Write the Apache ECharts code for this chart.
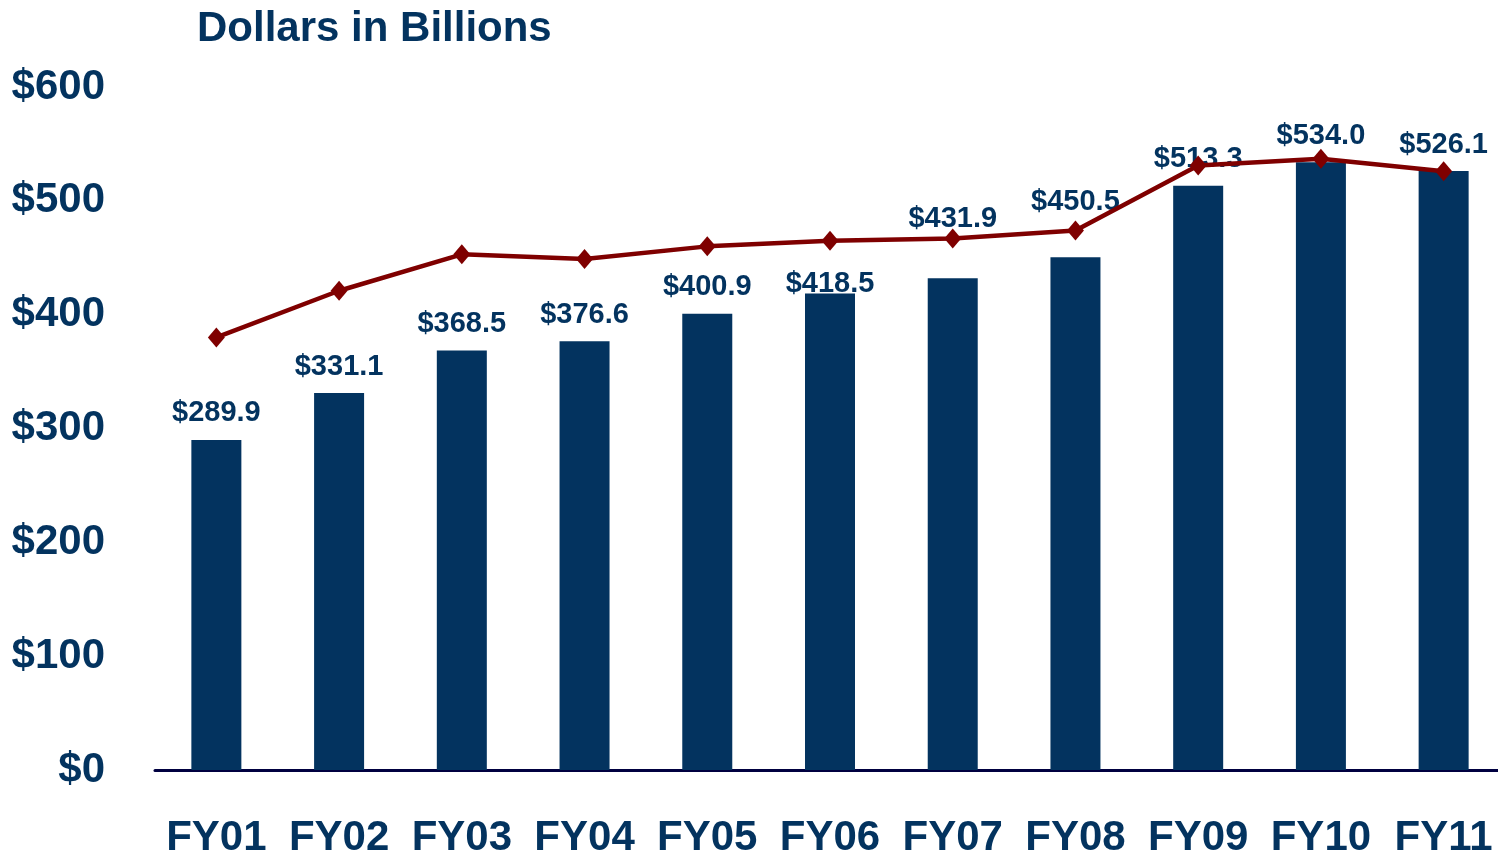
<!DOCTYPE html>
<html>
<head>
<meta charset="utf-8">
<script src="https://cdn.jsdelivr.net/npm/echarts@6/dist/echarts.min.js"></script>
<style>
  html, body { margin: 0; padding: 0; background: #fff; }
  #chart { width: 1498px; height: 854px; }
</style>
</head>
<body>
<div id="chart"></div>
<script>
var categories = ["FY01", "FY02", "FY03", "FY04", "FY05", "FY06", "FY07", "FY08", "FY09", "FY10", "FY11"];
var barValues = [289.9, 331.1, 368.5, 376.6, 400.9, 418.5, 431.9, 450.5, 513.3, 534.0, 526.1];
var lineValues = [380, 421, 453, 449, 460, 465, 467, 474, 531, 537, 526];
var yTicks = [0, 100, 200, 300, 400, 500, 600];

var navy = "#03335f";

// a few labels were nudged by hand in the original to clear the red line
var labelShift = { FY06: 17, FY07: -33, FY08: -29 };

var barData = barValues.map(function (v, i) {
  var item = { value: v };
  var dy = labelShift[categories[i]];
  if (dy) item.label = { offset: [0, dy] };
  return item;
});

var chart = echarts.init(document.getElementById("chart"));
var option = {
  animation: false,
  title: {
    text: "Dollars in Billions",
    left: 192,
    top: 3,
    textStyle: { fontFamily: "Liberation Sans", fontSize: 42, fontWeight: "bold", color: navy }
  },
  grid: { left: 155, top: 87, width: 1350, height: 683, outerBoundsMode: "none" },
  xAxis: {
    type: "category",
    data: categories,
    axisLine: { lineStyle: { color: "#000040", width: 3 } },
    axisTick: { show: false },
    axisLabel: {
      interval: 0,
      margin: 47,
      fontFamily: "Liberation Sans",
      fontSize: 42,
      fontWeight: "bold",
      color: navy
    }
  },
  yAxis: {
    type: "value",
    min: 0,
    max: 600,
    interval: 100,
    splitLine: { show: false },
    axisLine: { show: false },
    axisTick: { show: false },
    axisLabel: {
      margin: 50,
      fontFamily: "Liberation Sans",
      fontSize: 42,
      fontWeight: "bold",
      color: navy,
      formatter: function (v) { return yTicks.indexOf(v) >= 0 ? "$" + v : ""; }
    }
  },
  series: [
    {
      type: "bar",
      data: barData,
      barWidth: 50,
      itemStyle: { color: navy },
      label: {
        show: true,
        position: "top",
        distance: 12,
        fontFamily: "Liberation Sans",
        fontSize: 29,
        fontWeight: "bold",
        color: navy,
        formatter: function (p) { return "$" + p.value.toFixed(1); }
      }
    },
    {
      type: "line",
      data: lineValues,
      symbol: "diamond",
      symbolSize: [17, 20],
      lineStyle: { color: "#7f0000", width: 4.5 },
      itemStyle: { color: "#7f0000" },
      z: 3
    }
  ]
};
chart.setOption(option);
</script>
</body>
</html>
